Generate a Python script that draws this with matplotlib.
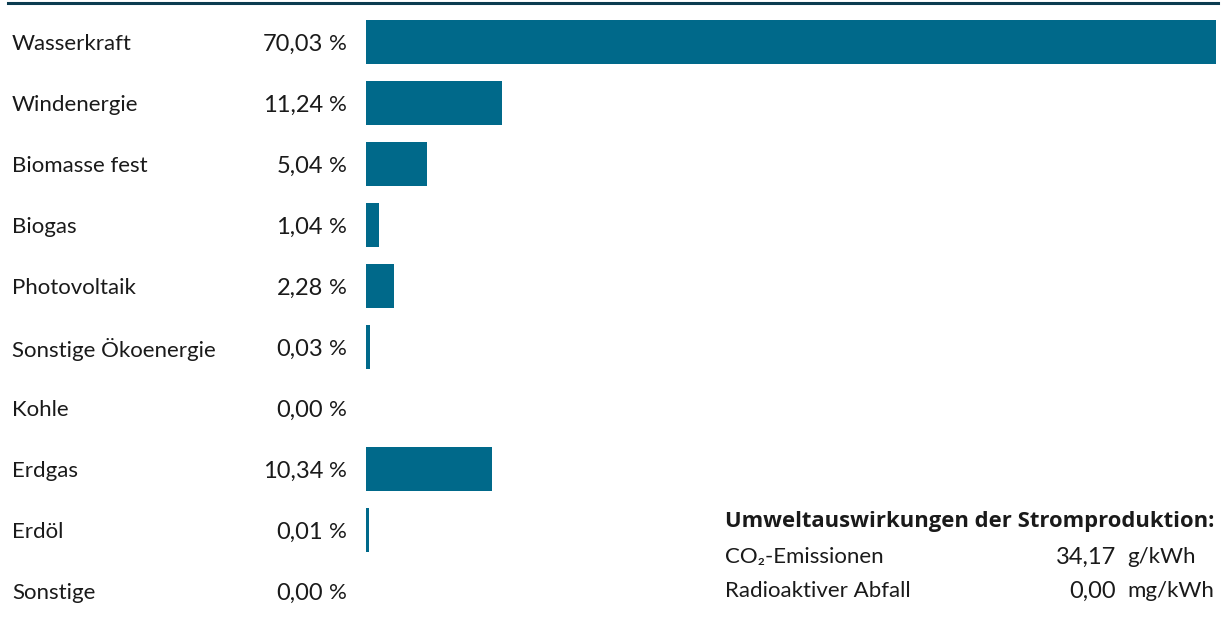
import matplotlib
matplotlib.use("Agg")
import matplotlib.pyplot as plt
from matplotlib.lines import Line2D

# Strommix (Anteile in %)
categories = ["Wasserkraft", "Windenergie", "Biomasse fest", "Biogas", "Photovoltaik",
              "Sonstige Ökoenergie", "Kohle", "Erdgas", "Erdöl", "Sonstige"]
shares = [70.03, 11.24, 5.04, 1.04, 2.28, 0.03, 0.00, 10.34, 0.01, 0.00]

impact_title = "Umweltauswirkungen der Stromproduktion:"
impact_labels = ["CO₂-Emissionen", "Radioaktiver Abfall"]
impact_values = [34.17, 0.00]
impact_units = ["g/kWh", "mg/kWh"]

W, H = 1228, 627
BAR_COLOR = "#00698a"
LINE_COLOR = "#0b3c50"
TEXT_COLOR = "#1a1a1a"
FONT = ["Lato", "DejaVu Sans"]
TITLE_FONT = ["Open Sans", "DejaVu Sans"]
plt.rcParams["font.family"] = FONT


def de(v):
    return f"{v:.2f}".replace(".", ",")


fig = plt.figure(figsize=(W / 100, H / 100), dpi=100)


def fx(px):
    return px / W


def fy(py):
    return 1 - py / H


# Bar axes: x=0 at 366 px, full scale at 1216 px; rows centred 42..591 px
row0, row_step = 42.0, 61.0
top = row0 - row_step / 2
bottom = row0 + row_step * (len(categories) - 0.5)
left_px, right_px = 366, 1216
ax = fig.add_axes([fx(left_px), fy(bottom), fx(right_px - left_px), (bottom - top) / H])

# Very small non-zero shares are widened a little so they stay visible
widths = [v if v >= 0.1 else (0.16 + 5 * v if v > 0 else 0.0) for v in shares]
ypos = list(range(len(categories)))
ax.barh(ypos, widths, height=0.72, color=BAR_COLOR, linewidth=0)
ax.set_xlim(0, max(shares))
ax.set_ylim(len(categories) - 0.5, -0.5)
ax.axis("off")

fs = 16
fs_num = 17
for i, (cat, v) in enumerate(zip(categories, shares)):
    yc = fy(row0 + 2 + i * row_step)
    fig.text(fx(12), yc, cat, ha="left", va="center", fontsize=fs, color=TEXT_COLOR)
    fig.text(fx(323), yc, de(v), ha="right", va="center", fontsize=fs_num, color=TEXT_COLOR)
    fig.text(fx(347), yc, "%", ha="right", va="center", fontsize=fs, color=TEXT_COLOR)

# Top rule
fig.add_artist(Line2D([fx(8), fx(1218)], [fy(2.5), fy(2.5)], color=LINE_COLOR, linewidth=2.2,
                      transform=fig.transFigure))

# Environmental impact box
fig.text(fx(725), fy(522), impact_title, ha="left", va="center", fontsize=15.8,
         fontweight="bold", color=TEXT_COLOR, family=TITLE_FONT)
for j, (lab, val, unit) in enumerate(zip(impact_labels, impact_values, impact_units)):
    yc = fy(557 + j * 34)
    fig.text(fx(725), yc, lab, ha="left", va="center", fontsize=fs, color=TEXT_COLOR)
    fig.text(fx(1116), yc, de(val), ha="right", va="center", fontsize=fs_num, color=TEXT_COLOR)
    fig.text(fx(1127), yc, unit, ha="left", va="center", fontsize=fs, color=TEXT_COLOR)

fig.savefig("out.png", dpi=100)
